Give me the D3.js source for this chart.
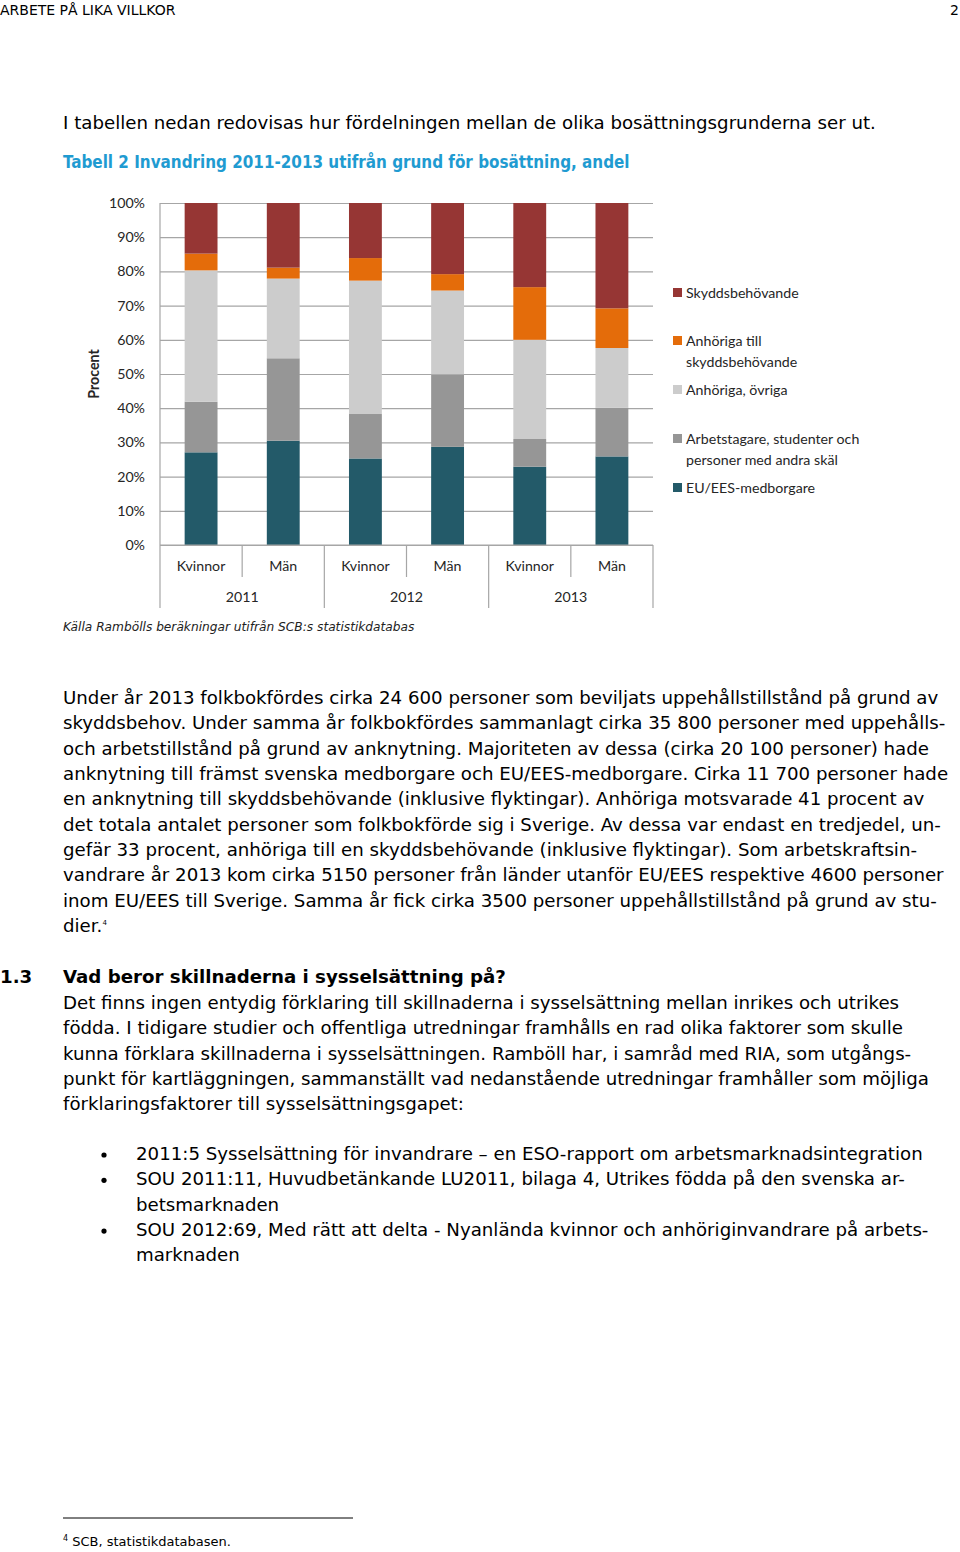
<!DOCTYPE html>
<html>
<head>
<meta charset="utf-8">
<script src="https://cdn.jsdelivr.net/npm/d3@7"></script>
<style>
  body { margin: 0; background: #fff; }
  svg { display: block; }
  .body-text { font-family: "DejaVu Sans", sans-serif; font-size: 18.2px; fill: #000; }
  .chart-text { font-family: Lato, "Open Sans", sans-serif; font-size: 14.2px; fill: #262626; }
</style>
</head>
<body>
<script>
// categories & series (share of each settlement reason, %)
const years = ["2011", "2012", "2013"];
const genders = ["Kvinnor", "Män"];
const seriesNames = [
  "EU/EES-medborgare",
  "Arbetstagare, studenter och personer med andra skäl",
  "Anhöriga, övriga",
  "Anhöriga till skyddsbehövande",
  "Skyddsbehövande"
];
const euEes       = [27.1, 30.5, 25.3, 28.7, 22.9, 25.9];
const arbetstagare = [14.8, 24.1, 13.0, 21.2, 8.1, 14.2];
const anhOvriga   = [38.4, 23.3, 39.0, 24.5, 29.0, 17.5];
const anhTill     = [4.9, 3.2, 6.6, 4.8, 15.4, 11.6];
const skydd       = [14.8, 18.9, 16.1, 20.8, 24.6, 30.8];
const yTicks = [0, 10, 20, 30, 40, 50, 60, 70, 80, 90, 100];
const colors = ["#235a69", "#969696", "#cccccc", "#e46c0a", "#963634"];

// legend, top to bottom (lines wrap like the original)
const legendItems = [
  {key: "Skyddsbehövande", lines: ["Skyddsbehövande"]},
  {key: "Anhöriga till skyddsbehövande", lines: ["Anhöriga till", "skyddsbehövande"]},
  {key: "Anhöriga, övriga", lines: ["Anhöriga, övriga"]},
  {key: "Arbetstagare, studenter och personer med andra skäl", lines: ["Arbetstagare, studenter och", "personer med andra skäl"]},
  {key: "EU/EES-medborgare", lines: ["EU/EES-medborgare"]}
];

const para1 = [
  "Under år 2013 folkbokfördes cirka 24 600 personer som beviljats uppehållstillstånd på grund av",
  "skyddsbehov.  Under samma år folkbokfördes sammanlagt cirka 35 800 personer med uppehålls-",
  "och arbetstillstånd på grund av anknytning. Majoriteten av dessa (cirka 20 100 personer) hade",
  "anknytning till främst svenska medborgare och EU/EES-medborgare. Cirka 11 700 personer hade",
  "en anknytning till skyddsbehövande (inklusive flyktingar). Anhöriga motsvarade 41 procent av",
  "det totala antalet personer som folkbokförde sig i Sverige. Av dessa var endast en tredjedel, un-",
  "gefär 33 procent, anhöriga till en skyddsbehövande (inklusive flyktingar). Som arbetskraftsin-",
  "vandrare år 2013 kom cirka 5150 personer från länder utanför EU/EES respektive 4600 personer",
  "inom EU/EES till Sverige. Samma år fick cirka 3500 personer uppehållstillstånd på grund av stu-",
  "dier."
];
const para2 = [
  "Det finns ingen entydig förklaring till skillnaderna i sysselsättning mellan inrikes och utrikes",
  "födda. I tidigare studier och offentliga utredningar framhålls en rad olika faktorer som skulle",
  "kunna förklara skillnaderna i sysselsättningen. Ramböll har, i samråd med RIA, som utgångs-",
  "punkt för kartläggningen, sammanställt vad nedanstående utredningar framhåller som möjliga",
  "förklaringsfaktorer till sysselsättningsgapet:"
];
const bullets = [
  ["2011:5 Sysselsättning för invandrare – en ESO-rapport om arbetsmarknadsintegration"],
  ["SOU 2011:11, Huvudbetänkande LU2011, bilaga 4, Utrikes födda på den svenska ar-", "betsmarknaden"],
  ["SOU 2012:69, Med rätt att delta - Nyanlända kvinnor och anhöriginvandrare på arbets-", "marknaden"]
];

const W = 960, H = 1552;
const svg = d3.select("body").append("svg").attr("width", W).attr("height", H);

// page header
svg.append("text").attr("x", 0).attr("y", 15)
  .style("font-family", "DejaVu Sans, sans-serif").style("font-size", "14px")
  .text("ARBETE PÅ LIKA VILLKOR");
svg.append("text").attr("x", 959).attr("y", 15).attr("text-anchor", "end")
  .style("font-family", "DejaVu Sans, sans-serif").style("font-size", "14px")
  .text("2");

svg.append("text").attr("class", "body-text").attr("x", 63).attr("y", 129)
  .text("I tabellen nedan redovisas hur fördelningen mellan de olika bosättningsgrunderna ser ut.");
svg.append("text").attr("x", 63).attr("y", 168)
  .style("font-family", "DejaVu Sans Condensed, sans-serif").style("font-size", "16.9px")
  .style("font-weight", "bold").style("fill", "#1f9bd1")
  .text("Tabell 2 Invandring 2011-2013 utifrån grund för bosättning, andel");

// ---------- chart ----------
const plot = {left: 160, right: 653, top: 203, bottom: 545};
const labels = [];
years.forEach(y => genders.forEach(g => labels.push(y + "|" + g)));
const rows = labels.map((k, i) => ({
  key: k,
  "EU/EES-medborgare": euEes[i],
  "Arbetstagare, studenter och personer med andra skäl": arbetstagare[i],
  "Anhöriga, övriga": anhOvriga[i],
  "Anhöriga till skyddsbehövande": anhTill[i],
  "Skyddsbehövande": skydd[i]
}));

const x = d3.scaleBand().domain(labels).range([plot.left, plot.right]).paddingInner(0.6).paddingOuter(0.3);
const xCat = d3.scaleBand().domain(labels).range([plot.left, plot.right]);
const xYear = d3.scaleBand().domain(years).range([plot.left, plot.right]);
const y = d3.scaleLinear().domain([0, 100]).range([plot.bottom, plot.top]);
const color = d3.scaleOrdinal().domain(seriesNames).range(colors);

const chart = svg.append("g");

// gridlines + y labels
const yAxis = chart.append("g").attr("transform", `translate(${plot.left},0)`)
  .call(d3.axisLeft(y).tickValues(yTicks).tickFormat(d => d + "%")
    .tickSize(-(plot.right - plot.left)).tickPadding(15));
yAxis.select(".domain").remove();
yAxis.selectAll(".tick line").attr("stroke", "#a6a6a6").attr("stroke-width", 1.2);
yAxis.selectAll(".tick text").attr("class", "chart-text").attr("fill", null);

// stacked bars
const stacked = d3.stack().keys(seriesNames)(rows);
chart.append("g").selectAll("g").data(stacked).join("g")
  .attr("fill", d => color(d.key))
  .selectAll("rect").data(d => d).join("rect")
  .attr("x", d => x(d.data.key))
  .attr("width", x.bandwidth())
  .attr("y", d => y(d[1]))
  .attr("height", d => y(d[0]) - y(d[1]));

// category axis (two levels)
const catG = chart.append("g");
catG.append("line").attr("x1", plot.left).attr("x2", plot.left)
  .attr("y1", plot.top).attr("y2", 608).attr("stroke", "#a6a6a6").attr("stroke-width", 1.2);
catG.append("line").attr("x1", plot.left).attr("x2", plot.right)
  .attr("y1", plot.bottom).attr("y2", plot.bottom).attr("stroke", "#a6a6a6").attr("stroke-width", 1.2);
labels.forEach((k, i) => {
  const x0 = xCat(k);
  if (i > 0) {
    const yearEdge = i % genders.length === 0;
    catG.append("line").attr("x1", x0).attr("x2", x0)
      .attr("y1", plot.bottom).attr("y2", yearEdge ? 608 : 577)
      .attr("stroke", "#a6a6a6").attr("stroke-width", 1.2);
  }
  catG.append("text").attr("class", "chart-text").attr("text-anchor", "middle")
    .attr("x", x0 + xCat.bandwidth() / 2).attr("y", 571).text(k.split("|")[1]);
});
catG.append("line").attr("x1", plot.right).attr("x2", plot.right)
  .attr("y1", plot.bottom).attr("y2", 608).attr("stroke", "#a6a6a6").attr("stroke-width", 1.2);
years.forEach(yr => {
  catG.append("text").attr("class", "chart-text").attr("text-anchor", "middle")
    .attr("x", xYear(yr) + xYear.bandwidth() / 2).attr("y", 602).text(yr);
});

// y title
chart.append("text").attr("class", "chart-text")
  .attr("transform", `translate(99,${(plot.top + plot.bottom) / 2}) rotate(-90)`)
  .attr("text-anchor", "middle").style("font-weight", "bold").text("Procent");

// legend
const legendY = [293, 341, 390, 439, 488];
const lg = chart.append("g");
legendItems.forEach((item, i) => {
  lg.append("rect").attr("x", 673).attr("y", legendY[i] - 5).attr("width", 9).attr("height", 9)
    .attr("fill", color(item.key));
  item.lines.forEach((ln, j) => {
    lg.append("text").attr("class", "chart-text").attr("x", 686).attr("y", legendY[i] + 5 + j * 20.5)
      .text(ln);
  });
});

// source
svg.append("text").attr("x", 63).attr("y", 631)
  .style("font-family", "DejaVu Sans, sans-serif").style("font-size", "12.2px")
  .style("font-style", "italic").style("fill", "#222")
  .text("Källa Rambölls beräkningar utifrån SCB:s statistikdatabas");

// ---------- text below ----------
const lineH = 25.35;
para1.forEach((ln, i) => {
  const t = svg.append("text").attr("class", "body-text").attr("x", 63).attr("y", 704 + i * lineH).text(ln);
  if (i === para1.length - 1) {
    t.append("tspan").attr("dy", -7).style("font-size", "7px").text("4");
  }
});

svg.append("text").attr("class", "body-text").attr("x", 0).attr("y", 983)
  .style("font-weight", "bold").text("1.3");
svg.append("text").attr("class", "body-text").attr("x", 63).attr("y", 983)
  .style("font-weight", "bold").text("Vad beror skillnaderna i sysselsättning på?");
para2.forEach((ln, i) => {
  svg.append("text").attr("class", "body-text").attr("x", 63).attr("y", 1009 + i * lineH).text(ln);
});

let by = 1160;
bullets.forEach(b => {
  svg.append("circle").attr("cx", 104).attr("cy", by - 5).attr("r", 2.6).attr("fill", "#000");
  b.forEach((ln, j) => {
    svg.append("text").attr("class", "body-text").attr("x", 136).attr("y", by).text(ln);
    by += lineH;
  });
});

// footnote
svg.append("line").attr("x1", 63).attr("x2", 353).attr("y1", 1518).attr("y2", 1518)
  .attr("stroke", "#000").attr("stroke-width", 1);
const fn = svg.append("text").attr("x", 63).attr("y", 1546)
  .style("font-family", "DejaVu Sans, sans-serif").style("font-size", "13px");
fn.append("tspan").attr("dy", -5).style("font-size", "8px").text("4");
fn.append("tspan").attr("dy", 5).text(" SCB, statistikdatabasen.");
</script>
</body>
</html>
